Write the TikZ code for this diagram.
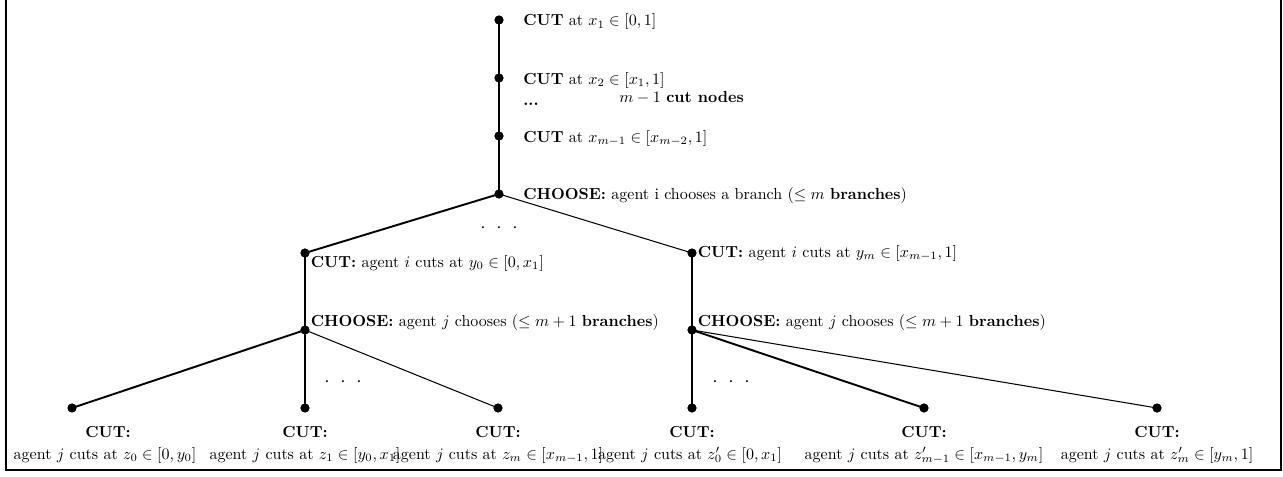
\documentclass[tikz,border=0pt]{standalone}
\begin{document}
\begin{tikzpicture}[x=0.625pt,y=-0.625pt,
  dot/.style={circle,fill,inner sep=0pt,minimum size=5.6pt},
  thk/.style={line width=1.2pt},
  thn/.style={line width=0.65pt},
  lbl/.style={inner sep=0pt,anchor=base west},
  clbl/.style={inner sep=0pt,anchor=base},
  gap/.style={inner sep=0pt,font=\large}]
\useasboundingbox (0,0) rectangle (1283,477);
\draw[line width=1.6pt,line join=miter] (6,-10) -- (6,470) -- (1281,470) -- (1281,-10);
% nodes
\node[dot] (c1) at (499,20) {};
\node[dot] (c2) at (499,78) {};
\node[dot] (c3) at (499,136) {};
\node[dot] (ch) at (499,194) {};
\node[dot] (L) at (305,253) {};
\node[dot] (R) at (692,253) {};
\node[dot] (LC) at (305,330) {};
\node[dot] (RC) at (692,330) {};
\node[dot] (l1) at (72,408) {};
\node[dot] (l2) at (305,408) {};
\node[dot] (l3) at (498,408) {};
\node[dot] (r1) at (692,408) {};
\node[dot] (r2) at (924,408) {};
\node[dot] (r3) at (1157,408) {};
% edges
\draw[thk] (c1.center) -- (c2.center) -- (c3.center) -- (ch.center);
\draw[thk] (ch.center) -- (L.center);
\draw[thn] (ch.center) -- (R.center);
\draw[thn] (L.center) -- (LC.center);
\draw[thn] (R.center) -- (RC.center);
\draw[thk] (LC.center) -- (l1.center);
\draw[thk] (LC.center) -- (l2.center);
\draw[thn] (LC.center) -- (l3.center);
\draw[thk] (RC.center) -- (r1.center);
\draw[thk] (RC.center) -- (r2.center);
\draw[thn] (RC.center) -- (r3.center);
% redraw dots on top
\foreach \n in {c1,c2,c3,ch,L,R,LC,RC,l1,l2,l3,r1,r2,r3} \fill (\n.center) circle (2.8pt);
% top labels
\node[lbl] (t1) at (523,26) {\textbf{CUT} at $x_1\in[0,1]$};
\node[lbl] (t2) at (523,84) {\textbf{CUT} at $x_2\in[x_1,1]$};
\node[lbl] (td) at (523,106) {\textbf{...}};
\node[lbl] (tm) at (619,102) {$m-1$ \textbf{cut nodes}};
\node[lbl] (t3) at (523,142) {\textbf{CUT} at $x_{m-1}\in[x_{m-2},1]$};
\node[lbl] (t4) at (523,199) {\textbf{CHOOSE:} agent i chooses a branch ($\leq m$ \textbf{branches})};
% middle labels
\node[lbl] (tL) at (310.5,267) {\textbf{CUT:} agent $i$ cuts at $y_0\in[0,x_1]$};
\node[lbl] (tR) at (697.5,257.5) {\textbf{CUT:} agent $i$ cuts at $y_m\in[x_{m-1},1]$};
\node[lbl] (tLC) at (310.5,326) {\textbf{CHOOSE:} agent $j$ chooses ($\leq m+1$ \textbf{branches})};
\node[lbl] (tRC) at (697.5,326) {\textbf{CHOOSE:} agent $j$ chooses ($\leq m+1$ \textbf{branches})};
% ellipses
\node[gap] (d1) at (499,228) {$\cdot\hspace{4pt}\cdot\hspace{4pt}\cdot$};
\node[gap] (d2) at (343,382) {$\cdot\hspace{4pt}\cdot\hspace{4pt}\cdot$};
\node[gap] (d3) at (731,382) {$\cdot\hspace{4pt}\cdot\hspace{4pt}\cdot$};
% leaf labels
\node[clbl] (k1) at (108,437) {\textbf{CUT:}};
\node[clbl] (a1) at (105,459) {agent $j$ cuts at $z_0\in[0,y_0]$};
\node[clbl] (k2) at (305,437) {\textbf{CUT:}};
\node[clbl] (a2) at (305,459) {agent $j$ cuts at $z_1\in[y_0,x_1]$};
\node[clbl] (k3) at (498,437) {\textbf{CUT:}};
\node[clbl] (a3) at (498,459) {agent $j$ cuts at $z_m\in[x_{m-1},1]$};
\node[clbl] (k4) at (692,437) {\textbf{CUT:}};
\node[clbl] (a4) at (690,459) {agent $j$ cuts at $z'_0\in[0,x_1]$};
\node[clbl] (k5) at (924,437) {\textbf{CUT:}};
\node[clbl] (a5) at (924,459) {agent $j$ cuts at $z'_{m-1}\in[x_{m-1},y_m]$};
\node[clbl] (k6) at (1157,437) {\textbf{CUT:}};
\node[clbl] (a6) at (1157,459) {agent $j$ cuts at $z'_m\in[y_m,1]$};
\end{tikzpicture}
\end{document}
